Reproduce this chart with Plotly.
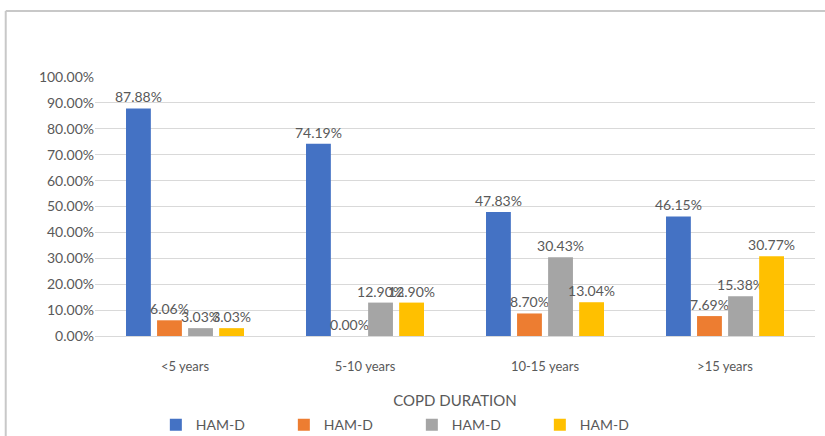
import plotly.graph_objects as go

categories = ["<5 years", "5-10 years", "10-15 years", ">15 years"]
series_names = ["HAM-D", "HAM-D", "HAM-D", "HAM-D"]
series_1 = [87.88, 74.19, 47.83, 46.15]
series_2 = [6.06, 0.00, 8.70, 7.69]
series_3 = [3.03, 12.90, 30.43, 15.38]
series_4 = [3.03, 12.90, 13.04, 30.77]
colors = ["#4472C4", "#ED7D31", "#A5A5A5", "#FFC000"]

text_color = "#595959"
font_family = "Lato, 'Open Sans', sans-serif"

fig = go.Figure()
for name, values, color in zip(series_names, [series_1, series_2, series_3, series_4], colors):
    fig.add_trace(
        go.Bar(
            name=name,
            x=categories,
            y=values,
            marker=dict(color=color, line=dict(width=0)),
            text=[f"{v:.2f}%" for v in values],
            textposition="outside",
            constraintext="none",
            cliponaxis=False,
            textfont=dict(size=14, color=text_color, family=font_family),
        )
    )

# chart frame like the Excel chart border (top and left edges visible)
fig.add_shape(type="line", xref="paper", yref="paper",
              x0=-0.124, x1=1.02, y0=1.255, y1=1.255,
              line=dict(color="#C8C8C8", width=2))
fig.add_shape(type="line", xref="paper", yref="paper",
              x0=-0.124, x1=-0.124, y0=1.255, y1=-0.4,
              line=dict(color="#C8C8C8", width=2))

fig.update_layout(
    width=825,
    height=436,
    barmode="group",
    bargap=0.31,
    bargroupgap=0.2,
    plot_bgcolor="white",
    paper_bgcolor="white",
    margin=dict(l=95, r=10, t=77, b=100, autoexpand=False),
    font=dict(family=font_family, color=text_color, size=13),
    showlegend=True,
    legend=dict(
        orientation="h",
        x=0.0845,
        xanchor="left",
        y=-0.344,
        yanchor="middle",
        entrywidth=83,
        font=dict(size=14, color=text_color),
        traceorder="normal",
    ),
)
fig.update_xaxes(
    title=dict(text="COPD DURATION", font=dict(size=15, color=text_color), standoff=22),
    showline=True,
    linecolor="#D9D9D9",
    ticks="outside",
    ticklen=18,
    tickcolor="white",
    tickfont=dict(size=13, color=text_color),
    automargin=False,
)
fig.update_yaxes(
    range=[0, 100],
    dtick=10,
    ticksuffix="%",
    tickformat=".2f",
    showgrid=True,
    gridcolor="#D9D9D9",
    gridwidth=1,
    zeroline=False,
    tickfont=dict(size=14, color=text_color),
    automargin=False,
)

fig.write_html(
    "out.html",
    config={"displayModeBar": False},
    post_script="document.body.style.margin='0';",
)
